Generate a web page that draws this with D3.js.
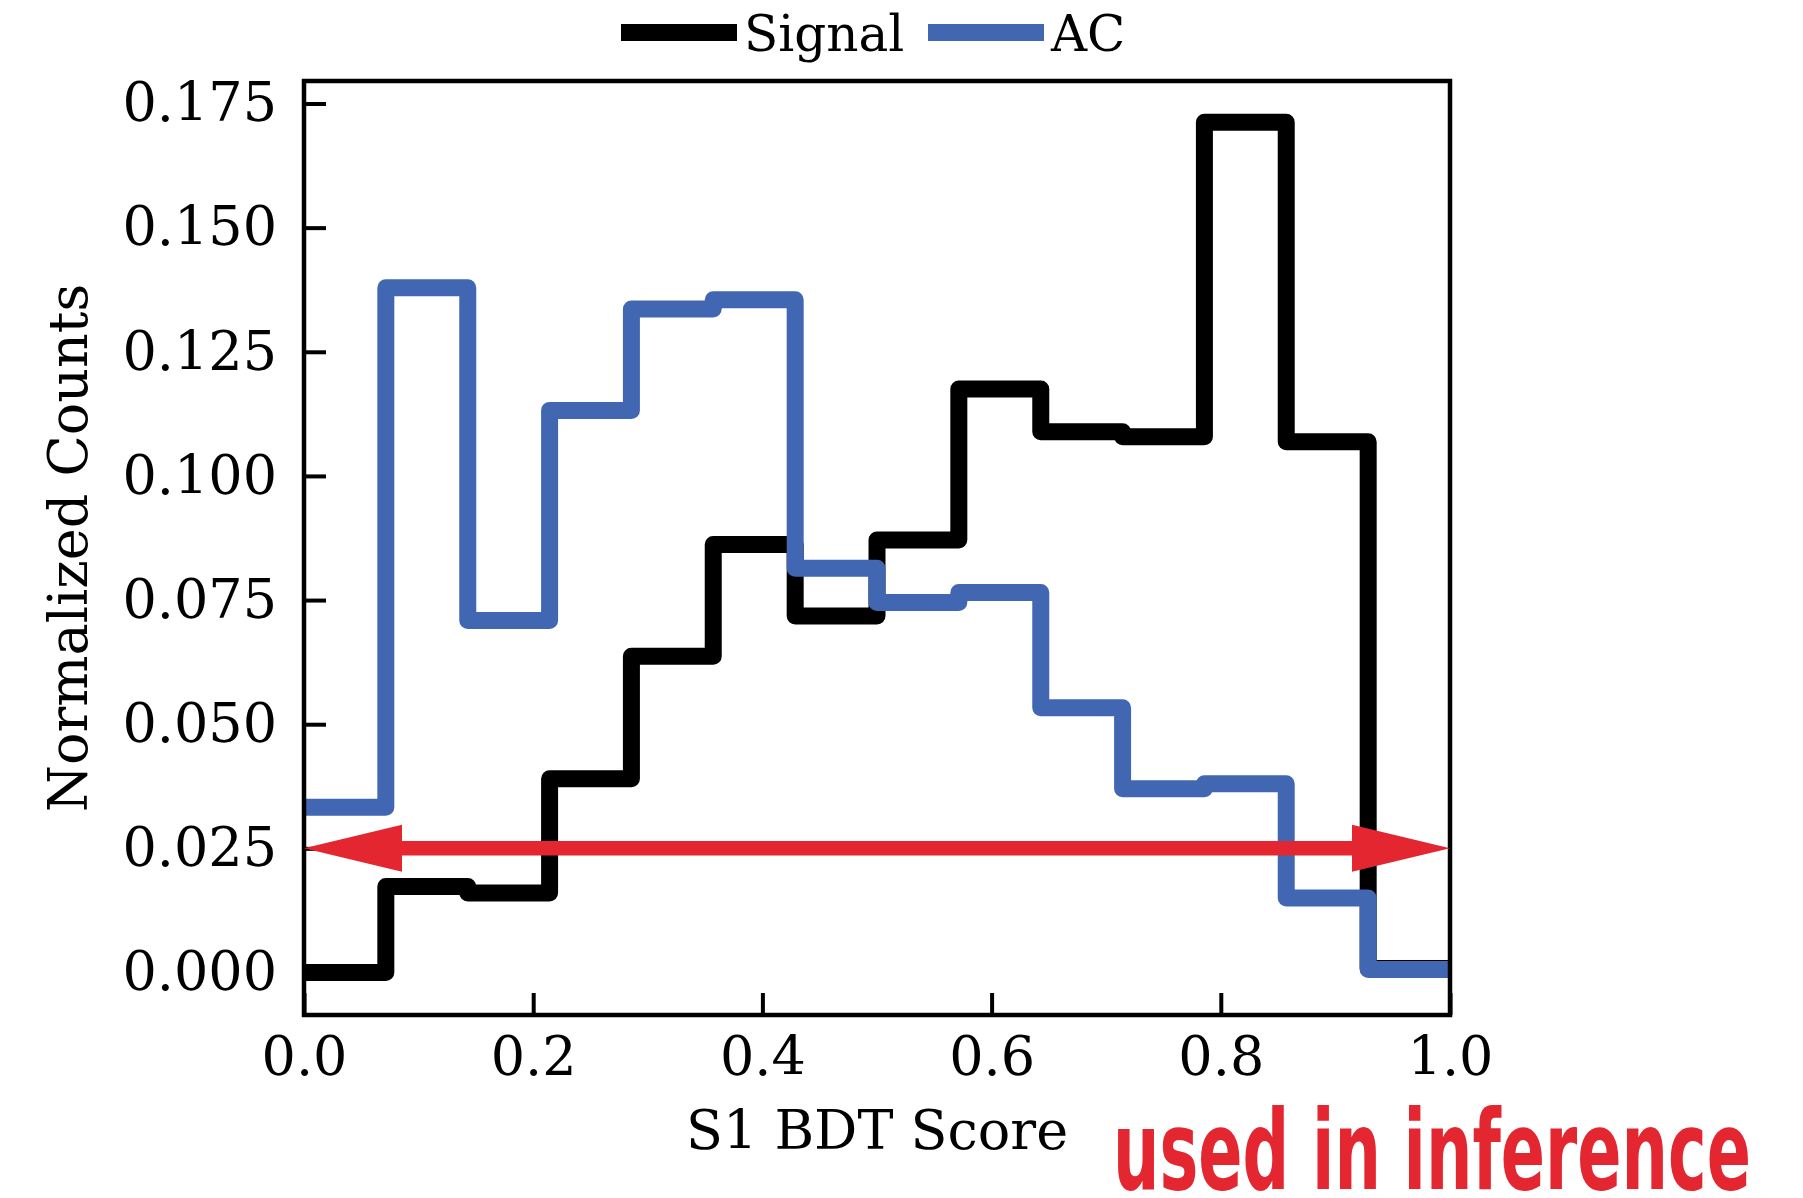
<!DOCTYPE html>
<html>
<head>
<meta charset="utf-8">
<script src="https://cdn.jsdelivr.net/npm/d3@7"></script>
<style>
  body { margin: 0; background: #fff; }
  text { font-family: "DejaVu Serif", serif; }
</style>
</head>
<body>
<div id="chart"></div>
<script>

// histogram bin edges (14 bins over the BDT score)
var binEdges = [0, 0.0714, 0.1429, 0.2143, 0.2857, 0.3571, 0.4286, 0.5, 0.5714, 0.6429, 0.7143, 0.7857, 0.8571, 0.9286, 1]

// normalized counts per bin
var signalCounts = [0.0000, 0.0173, 0.0160, 0.0390, 0.0637, 0.0862, 0.0718, 0.0871, 0.1175, 0.1089, 0.1079, 0.1712, 0.1069, 0.0008]
var acCounts = [0.0333, 0.1379, 0.0709, 0.1132, 0.1336, 0.1355, 0.0814, 0.0745, 0.0765, 0.0533, 0.0370, 0.0380, 0.0150, 0.0006]

var xTicks = [0, 0.2, 0.4, 0.6, 0.8, 1.0]
var yTicks = [0, 0.025, 0.05, 0.075, 0.1, 0.125, 0.15, 0.175]

var seriesNames = ["Signal", "AC"]
var seriesColors = ["#000000", "#4267b2"]

var arrowLevel = 0.025
var arrowRange = [0, 1]
var note = "used in inference"

var red = "#e3262f"

var width = 1803
var height = 1198
var margin = {top: 81, right: 353, bottom: 183, left: 304}

var svg = d3.select("#chart").append("svg")
	.attr("width", width)
	.attr("height", height)

svg.append("rect").attr("width", width).attr("height", height).attr("fill", "#fff")

var x = d3.scaleLinear().domain([0, 1]).range([margin.left, width - margin.right])
var y = d3.scaleLinear().domain([-0.00856, 0.17953]).range([height - margin.bottom, margin.top])

svg.append("clipPath").attr("id", "plotClip")
	.append("rect")
	.attr("x", x(0)).attr("y", y.range()[1])
	.attr("width", x(1) - x(0)).attr("height", y.range()[0] - y.range()[1])

function stepPoints(counts) {
	var pts = []
	counts.forEach(function(v, i) {
		pts.push([binEdges[i], v])
		pts.push([binEdges[i + 1], v])
	})
	return pts
}

var line = d3.line()
	.x(function(d) { return x(d[0]) })
	.y(function(d) { return y(d[1]) })

var plot = svg.append("g").attr("clip-path", "url(#plotClip)")

;[signalCounts, acCounts].forEach(function(counts, i) {
	plot.append("path")
		.attr("d", line(stepPoints(counts)))
		.attr("fill", "none")
		.attr("stroke", seriesColors[i])
		.attr("stroke-width", 17)
		.attr("stroke-linejoin", "round")
})

// axes, ticks pointing in
var xAxis = d3.axisBottom(x).tickValues(xTicks).tickFormat(d3.format(".1f")).tickSize(-22).tickPadding(22)
var yAxis = d3.axisLeft(y).tickValues(yTicks).tickFormat(d3.format(".3f")).tickSize(-22).tickPadding(27)

var gx = svg.append("g").attr("transform", "translate(0," + y.range()[0] + ")").call(xAxis)
var gy = svg.append("g").attr("transform", "translate(" + x(0) + ",0)").call(yAxis)

;[gx, gy].forEach(function(g) {
	g.select(".domain").remove()
	g.selectAll(".tick line").attr("stroke", "#000").attr("stroke-width", 4)
	g.selectAll(".tick text")
		.attr("fill", "#000")
		.style("font-family", "DejaVu Serif")
		.style("font-size", "54px")
})

// frame
svg.append("rect")
	.attr("x", x(0)).attr("y", y.range()[1])
	.attr("width", x(1) - x(0)).attr("height", y.range()[0] - y.range()[1])
	.attr("fill", "none")
	.attr("stroke", "#000")
	.attr("stroke-width", 4.5)

// double headed arrow
var headLen = 98
var headHalf = 23.5
var ay = y(arrowLevel)
var ax0 = x(arrowRange[0])
var ax1 = x(arrowRange[1])

svg.append("line")
	.attr("x1", ax0 + headLen - 2).attr("x2", ax1 - headLen + 2)
	.attr("y1", ay).attr("y2", ay)
	.attr("stroke", red)
	.attr("stroke-width", 14.5)

svg.append("path")
	.attr("d", "M" + ax0 + "," + ay + "L" + (ax0 + headLen) + "," + (ay - headHalf) + "L" + (ax0 + headLen) + "," + (ay + headHalf) + "Z")
	.attr("fill", red)

svg.append("path")
	.attr("d", "M" + ax1 + "," + ay + "L" + (ax1 - headLen) + "," + (ay - headHalf) + "L" + (ax1 - headLen) + "," + (ay + headHalf) + "Z")
	.attr("fill", red)

// axis labels
svg.append("text")
	.attr("x", (x(0) + x(1)) / 2)
	.attr("y", 1149)
	.attr("text-anchor", "middle")
	.style("font-size", "54px")
	.text("S1 BDT Score")

svg.append("text")
	.attr("transform", "translate(87," + ((y.range()[0] + y.range()[1]) / 2) + ") rotate(-90)")
	.attr("text-anchor", "middle")
	.style("font-size", "54px")
	.text("Normalized Counts")

// legend
var legendX = [621, 928]
seriesNames.forEach(function(name, i) {
	svg.append("line")
		.attr("x1", legendX[i]).attr("x2", legendX[i] + 116)
		.attr("y1", 32.6).attr("y2", 32.6)
		.attr("stroke", seriesColors[i])
		.attr("stroke-width", 17)
	svg.append("text")
		.attr("x", legendX[i] + 123)
		.attr("y", 51)
		.style("font-size", "50px")
		.text(name)
})

// annotation
svg.append("text")
	.attr("x", 1113)
	.attr("y", 1189)
	.attr("fill", red)
	.attr("textLength", 638)
	.attr("lengthAdjust", "spacingAndGlyphs")
	.style("font-family", "'Liberation Sans Narrow', 'DejaVu Sans Condensed', 'Liberation Sans', sans-serif")
	.style("font-weight", "bold")
	.style("font-size", "110px")
	.text(note)

</script>
</body>
</html>
